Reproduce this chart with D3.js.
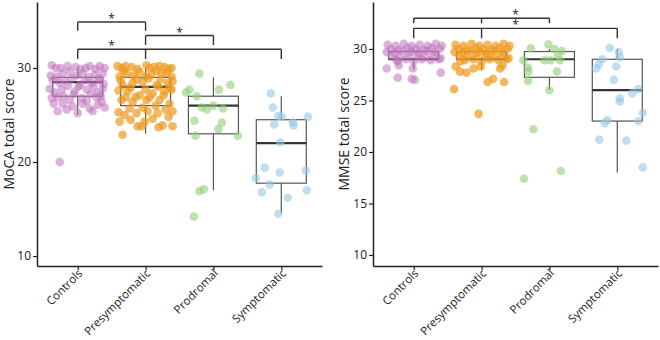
<!DOCTYPE html>
<html>
<head>
<meta charset="utf-8">
<script src="https://cdn.jsdelivr.net/npm/d3@7"></script>
<style>
  body { margin: 0; background: #fff; }
  svg text { font-family: 'Open Sans', 'DejaVu Sans', sans-serif; fill: #222; }
</style>
</head>
<body>
<script>
// DATA
const categories = ['Controls', 'Presymptomatic', 'Prodromal', 'Symptomatic'];
const groupColors = ['#bf72bd', '#ec9a1e', '#92cf78', '#98c8e2'];

// box stats: [lower whisker, q1, median, q3, upper whisker]
const mocaBoxes = [[25, 27, 28.5, 29, 30], [23, 26, 28, 29, 30], [17, 23, 26, 27, 29], [14.5, 17.75, 22, 24.5, 27]];
const mmseBoxes = [[28, 29, 29, 29.75, 30], [28, 29, 29, 29.75, 30], [26, 27.25, 29, 29.75, 30], [18, 23, 26, 29, 30]];

// points: [jitter (fraction of box width), score]
const mocaControls = [[-0.52,30.3],[-0.34,30.0],[-0.04,30.1],[0.24,30.2],[0.44,30.2],[-0.42,29.1],[-0.16,29.6],[0.10,29.4],[0.34,29.3],[0.50,29.4],
  [-0.50,28.7],[-0.26,28.7],[0.04,28.2],[0.28,28.4],[0.44,28.7],[-0.56,27.8],[-0.32,27.7],[-0.06,27.5],[0.18,27.7],[0.50,27.8],
  [-0.40,26.9],[-0.16,26.6],[0.08,26.8],[0.38,26.9],[-0.10,25.9],[0.10,26.2],[0.40,26.1],[0.54,25.8],[-0.40,25.4],[0.00,25.2],[0.30,25.4],
  [-0.36,20.0],[-0.44,30.0],[-0.20,30.2],[0.06,29.9],[0.16,30.0],[0.36,29.9],[0.54,30.0],[-0.30,29.4],[-0.02,29.2],[0.22,29.0],[0.42,28.9],[-0.54,29.2],
  [-0.36,28.4],[-0.12,28.9],[0.14,28.7],[0.32,28.0],[0.52,28.3],[-0.46,27.4],[-0.20,28.1],[0.02,28.0],[0.26,27.2],[0.40,27.4],
  [-0.28,27.0],[-0.52,26.8],[0.18,26.5],[0.46,27.0],[-0.08,27.2],[-0.30,26.2],[-0.22,25.6],[0.24,25.7],[0.48,26.4],[-0.48,26.2]];
const mocaPresymptomatic = [[-0.48,30.0],[-0.28,30.1],[0.02,30.3],[0.18,30.1],[0.38,30.1],[0.52,30.0],[-0.52,29.1],[-0.38,29.4],[-0.12,29.6],[0.12,29.3],[0.32,29.4],[0.52,29.1],
  [-0.46,28.2],[-0.26,28.4],[-0.06,28.5],[0.22,28.2],[0.44,28.4],[-0.36,27.5],[-0.12,27.1],[0.14,27.3],[0.38,27.5],[0.52,27.7],
  [-0.48,26.6],[-0.26,26.4],[0.02,26.6],[0.28,26.6],[0.48,26.2],[-0.42,25.0],[-0.18,25.2],[0.04,25.4],[0.24,25.2],[0.54,25.4],
  [-0.52,24.3],[-0.02,24.3],[0.34,23.9],[0.54,23.8],[-0.16,23.8],[-0.08,23.8],[-0.46,22.9],
  [-0.40,30.2],[-0.16,29.9],[0.08,30.0],[0.28,30.2],[0.46,29.9],[-0.56,30.2],[-0.24,29.2],[0.00,29.1],[0.22,29.7],[0.42,29.5],[-0.44,29.7],
  [-0.50,28.7],[-0.18,28.8],[0.06,28.9],[0.30,28.8],[0.54,28.6],[-0.30,27.9],[0.00,27.7],[0.26,28.0],[0.48,27.9],[-0.54,27.6],
  [-0.20,26.9],[0.08,26.9],[0.36,27.1],[-0.40,26.9],[0.20,26.0],[-0.32,25.7],[-0.06,25.8],[0.40,25.6],[-0.54,25.3],[0.14,24.6],[-0.30,24.5],[0.46,24.8],[0.26,23.7]];
const mocaProdromal = [[-0.28,29.4],[-0.48,27.7],[-0.55,27.4],[-0.33,27.0],[0.11,27.7],[0.34,28.2],[-0.23,25.8],[-0.13,25.6],[0.00,26.0],[0.19,25.7],
  [-0.38,24.4],[0.17,24.2],[0.10,23.5],[-0.36,22.8],[0.49,22.8],[-0.28,16.9],[-0.19,17.1],[-0.39,14.2]];
const mocaSymptomatic = [[-0.21,27.3],[-0.17,25.8],[-0.06,24.9],[0.01,24.8],[-0.14,24.0],[0.23,24.2],[0.25,23.9],[0.53,24.8],[-0.02,22.1],
  [-0.33,19.4],[-0.03,18.9],[-0.51,18.3],[0.49,19.1],[-0.23,17.6],[-0.39,16.8],[0.51,17.0],[0.13,16.2],[-0.06,14.5]];

const mmseControls = [[-0.52,30.4],[-0.36,30.3],[-0.20,30.5],[-0.04,30.3],[0.12,30.4],[0.28,30.3],[0.44,30.5],[0.56,30.3],
  [-0.46,30.0],[-0.30,29.9],[-0.12,30.1],[0.04,30.0],[0.20,29.9],[0.36,30.1],[0.52,30.0],
  [-0.54,29.7],[-0.38,29.6],[-0.22,29.8],[-0.06,29.7],[0.10,29.6],[0.26,29.8],[0.42,29.7],
  [-0.44,29.3],[-0.28,29.2],[-0.10,29.4],[0.08,29.3],[0.24,29.2],[0.40,29.4],[0.54,29.1],
  [-0.34,28.9],[-0.16,29.0],[0.00,28.8],[0.16,29.0],[0.34,28.9],[0.50,29.0],
  [-0.54,28.1],[-0.30,28.4],[-0.02,28.1],[-0.32,27.2],[-0.04,27.1],[0.02,27.0],[0.54,27.7],[-0.32,28.8]];
const mmsePresymptomatic = [[-0.52,30.4],[-0.36,30.3],[-0.20,30.5],[-0.04,30.3],[0.12,30.4],[0.28,30.3],[0.44,30.5],[0.56,30.3],
  [-0.46,30.0],[-0.30,29.9],[-0.12,30.1],[0.04,30.0],[0.20,29.9],[0.36,30.1],[0.52,30.0],
  [-0.54,29.7],[-0.38,29.6],[-0.22,29.8],[-0.06,29.7],[0.10,29.6],[0.26,29.8],[0.42,29.7],
  [-0.44,29.3],[-0.28,29.2],[-0.10,29.4],[0.08,29.3],[0.24,29.2],[0.40,29.4],[0.54,29.1],
  [-0.34,28.9],[-0.16,29.0],[0.00,28.8],[0.16,29.0],[0.34,28.9],[0.50,29.0],
  [-0.55,26.1],[-0.06,23.7],[0.12,26.8],[0.23,27.1],[0.45,26.8],[-0.52,28.3],[-0.43,27.8],[-0.30,27.7],[-0.16,28.1],[-0.02,28.3],[0.37,28.1],[0.42,28.4],[-0.42,28.8]];
const mmseProdromal = [[-0.37,30.07],[-0.02,30.45],[0.10,30.0],[0.25,29.8],[0.17,29.35],[-0.52,28.9],[-0.10,28.9],[0.02,28.9],[0.21,28.9],
  [-0.43,28.2],[-0.42,27.8],[0.15,27.8],[-0.43,26.9],[0.00,26.0],[-0.32,22.2],[0.23,18.15],[-0.51,17.4]];
const mmseSymptomatic = [[-0.15,30.1],[0.03,29.7],[0.05,29.2],[-0.30,29.0],[-0.37,28.5],[-0.42,28.1],[-0.02,28.3],[-0.07,27.0],[0.42,26.1],[0.30,25.7],
  [0.05,25.2],[0.05,24.9],[0.51,23.8],[-0.20,23.1],[-0.25,22.8],[0.42,23.0],[-0.36,21.2],[0.18,21.1],[0.51,18.5]];

const mocaTicks = [10, 20, 30];
const mmseTicks = [10, 15, 20, 25, 30];

// significance brackets: categories with tick marks, bracket height, tick end, star position (category index)
const mocaBracketCats = [['Controls', 'Presymptomatic'], ['Presymptomatic', 'Prodromal'], ['Controls', 'Presymptomatic', 'Symptomatic']];
const mocaBracketTop = [34.9, 33.45, 32.0];
const mocaBracketEnd = [33.95, 32.45, 30.95];
const mocaStarAt = [0.5, 1.5, 0.5];
const mmseBracketCats = [['Controls', 'Presymptomatic', 'Prodromal'], ['Controls', 'Presymptomatic', 'Symptomatic']];
const mmseBracketTop = [32.98, 32.0];
const mmseBracketEnd = [32.5, 31.03];
const mmseStarAt = [1.5, 1.5];

// DEFS
const width = 660, height = 340;
const plotTop = 2, plotBottom = 266;
const boxWidth = 50;
const dotRadius = 4.3;
const dotOpacity = [0.55, 0.7, 0.6, 0.6];

const svg = d3.select('body').append('svg').attr('width', width).attr('height', height);

const drawPanel = (cfg) => {
  const g = svg.append('g');
  const x = d3.scalePoint().domain(categories).range([cfg.left, cfg.right]).padding(0.6);
  const y = d3.scaleLinear().domain(cfg.yDomain).range([plotBottom, plotTop]);

  // axes
  const yAxis = g.append('g').attr('transform', `translate(${cfg.left},0)`)
    .call(d3.axisLeft(y).tickValues(cfg.ticks).tickSize(4).tickSizeOuter(0).tickPadding(2));
  const xAxis = g.append('g').attr('transform', `translate(0,${plotBottom})`)
    .call(d3.axisBottom(x).tickSize(4).tickSizeOuter(0));
  [yAxis, xAxis].forEach(a => {
    a.select('.domain').attr('stroke', '#222').attr('stroke-width', 1.5);
    a.selectAll('.tick line').attr('stroke', '#222').attr('stroke-width', 1.2);
  });
  yAxis.selectAll('.tick text').style('font-size', '12px').attr('fill', '#222');
  xAxis.selectAll('.tick text')
    .style('font-size', '11.5px').attr('fill', '#222')
    .attr('text-anchor', 'end')
    .attr('dy', null).attr('y', null)
    .attr('transform', 'translate(5,8) rotate(-45)');

  g.append('text')
    .attr('transform', `translate(${cfg.titleX},${(plotTop + plotBottom) / 2}) rotate(-90)`)
    .attr('text-anchor', 'middle')
    .style('font-size', '14px')
    .text(cfg.title);

  // boxes
  const boxes = g.selectAll('.box').data(cfg.boxes).enter().append('g')
    .attr('class', 'box')
    .attr('transform', (d, i) => `translate(${x(categories[i])},0)`);
  boxes.append('line').attr('y1', d => y(d[0])).attr('y2', d => y(d[1])).attr('stroke', '#555').attr('stroke-width', 1.2);
  boxes.append('line').attr('y1', d => y(d[3])).attr('y2', d => y(d[4])).attr('stroke', '#555').attr('stroke-width', 1.2);
  boxes.append('rect')
    .attr('x', -boxWidth / 2).attr('width', boxWidth)
    .attr('y', d => y(d[3])).attr('height', d => y(d[1]) - y(d[3]))
    .attr('fill', 'none').attr('stroke', '#555').attr('stroke-width', 1.2);
  boxes.append('line')
    .attr('x1', -boxWidth / 2).attr('x2', boxWidth / 2)
    .attr('y1', d => y(d[2])).attr('y2', d => y(d[2]))
    .attr('stroke', '#333').attr('stroke-width', 2.2);

  // dots
  cfg.points.forEach((pts, i) => {
    g.append('g').selectAll('circle').data(pts).enter().append('circle')
      .attr('cx', d => x(categories[i]) + d[0] * boxWidth)
      .attr('cy', d => y(d[1]))
      .attr('r', dotRadius)
      .attr('fill', groupColors[i])
      .attr('fill-opacity', dotOpacity[i]);
  });

  // significance brackets
  cfg.bracketCats.forEach((cats, i) => {
    const xs = cats.map(c => x(c));
    const top = y(cfg.bracketTop[i]);
    const end = y(cfg.bracketEnd[i]);
    const b = g.append('g').attr('stroke', '#333').attr('stroke-width', 1.4).attr('fill', 'none');
    b.append('line').attr('x1', d3.min(xs)).attr('x2', d3.max(xs)).attr('y1', top).attr('y2', top);
    xs.forEach(xv => b.append('line').attr('x1', xv).attr('x2', xv).attr('y1', top).attr('y2', end));
    const starX = x(categories[0]) + cfg.starAt[i] * x.step();
    g.append('text')
      .attr('x', starX).attr('y', top + 1)
      .attr('text-anchor', 'middle')
      .style('font-size', '12px')
      .text('*');
  });
};

drawPanel({
  left: 37, right: 322, yDomain: [8.94, 37.02], ticks: mocaTicks,
  title: 'MoCA total score', titleX: 14,
  boxes: mocaBoxes,
  points: [mocaControls, mocaPresymptomatic, mocaProdromal, mocaSymptomatic],
  bracketCats: mocaBracketCats, bracketTop: mocaBracketTop, bracketEnd: mocaBracketEnd, starAt: mocaStarAt
});

drawPanel({
  left: 373, right: 658, yDomain: [8.93, 34.56], ticks: mmseTicks,
  title: 'MMSE total score', titleX: 349,
  boxes: mmseBoxes,
  points: [mmseControls, mmsePresymptomatic, mmseProdromal, mmseSymptomatic],
  bracketCats: mmseBracketCats, bracketTop: mmseBracketTop, bracketEnd: mmseBracketEnd, starAt: mmseStarAt
});
</script>
</body>
</html>
